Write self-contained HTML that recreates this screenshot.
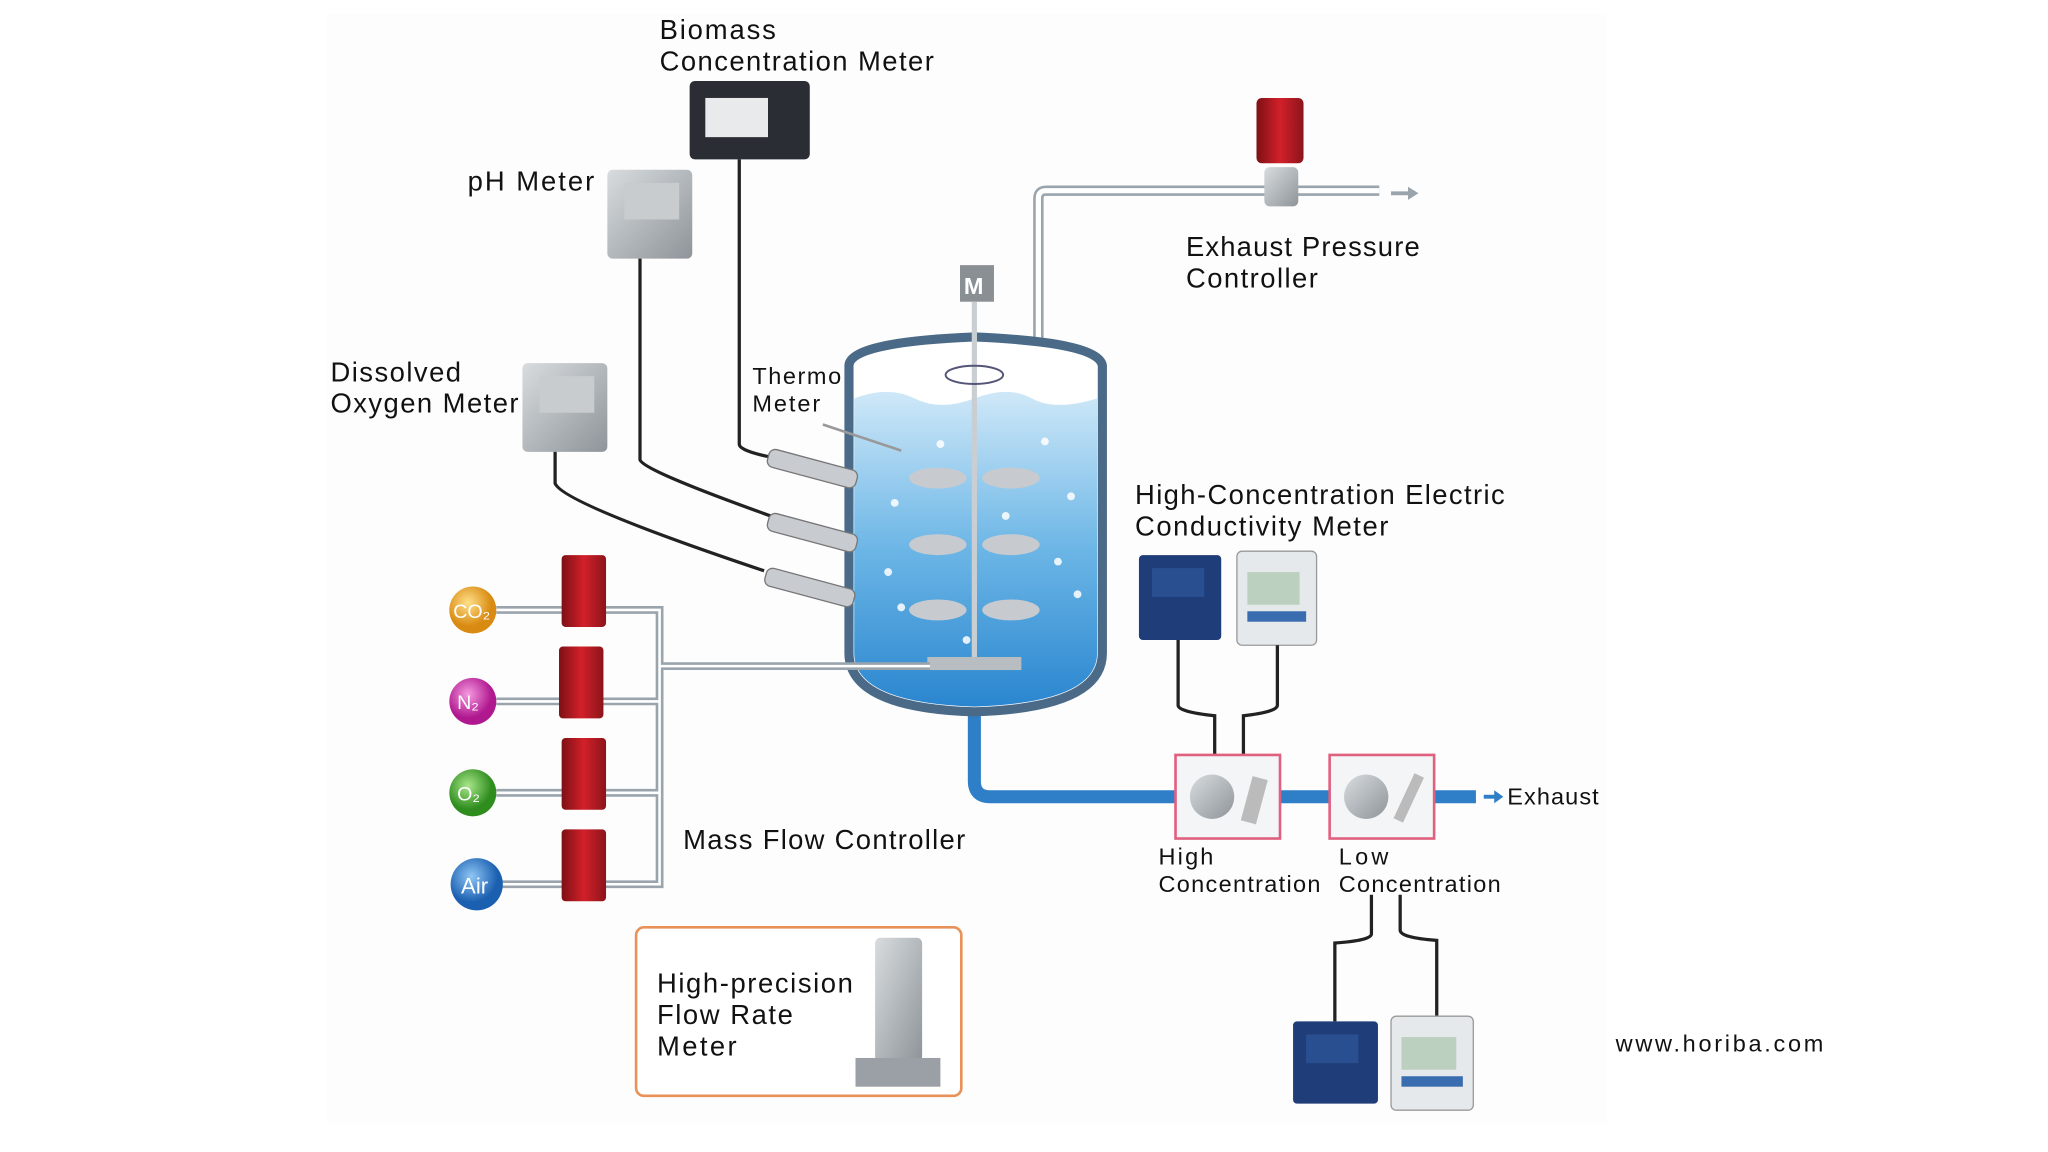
<!DOCTYPE html>
<html><head><meta charset="utf-8"><style>
html,body{margin:0;padding:0;background:#fff;}
svg{display:block;}
text{font-family:"Liberation Sans",sans-serif;fill:#111;}
</style></head><body>
<svg width="2048" height="1152" viewBox="0 0 1568 882" xmlns="http://www.w3.org/2000/svg">
<defs>
<linearGradient id="liq" x1="0" y1="0" x2="0" y2="1"><stop offset="0" stop-color="#cfe8f8"/><stop offset="0.5" stop-color="#6cb6e6"/><stop offset="1" stop-color="#2a86cf"/></linearGradient>
<linearGradient id="red" x1="0" y1="0" x2="1" y2="0"><stop offset="0" stop-color="#7d1015"/><stop offset="0.5" stop-color="#d2202a"/><stop offset="1" stop-color="#8c141a"/></linearGradient>
<linearGradient id="grey" x1="0" y1="0" x2="1" y2="1"><stop offset="0" stop-color="#d8dcdf"/><stop offset="1" stop-color="#8e9499"/></linearGradient>
<radialGradient id="co2" cx="0.4" cy="0.35"><stop offset="0" stop-color="#ffe08a"/><stop offset="1" stop-color="#d98a10"/></radialGradient>
<radialGradient id="n2" cx="0.4" cy="0.35"><stop offset="0" stop-color="#f59ae0"/><stop offset="1" stop-color="#b0188f"/></radialGradient>
<radialGradient id="o2" cx="0.4" cy="0.35"><stop offset="0" stop-color="#a8e68a"/><stop offset="1" stop-color="#2f8d1e"/></radialGradient>
<radialGradient id="air" cx="0.4" cy="0.35"><stop offset="0" stop-color="#8fc6f5"/><stop offset="1" stop-color="#1a5fb0"/></radialGradient>
</defs>
<rect x="250" y="10" width="980" height="850" fill="#fdfdfd"/>
<path d="M795 262 V152 Q795 146 801 146 H1056" fill="none" stroke="#9aa4ac" stroke-width="8"/>
<path d="M795 262 V152 Q795 146 801 146 H1056" fill="none" stroke="#fff" stroke-width="4"/>
<path d="M1065 148 H1082" stroke="#9aa4ac" stroke-width="3"/><path d="M1078 143 L1086 148 L1078 153Z" fill="#9aa4ac"/>
<rect x="968" y="128" width="26" height="30" rx="4" fill="url(#grey)"/>
<rect x="962" y="75" width="36" height="50" rx="4" fill="url(#red)"/>
<path d="M746 540 V598 Q746 610 758 610 H1130" fill="none" stroke="#2e7fc8" stroke-width="10"/>
<path d="M1136 610 H1148" stroke="#2e7fc8" stroke-width="3"/><path d="M1144 605 L1151 610 L1144 615Z" fill="#2e7fc8"/>
<path d="M650 280 Q650 262 746 258 Q842 262 844 280 V500 Q844 542 746 545 Q650 542 650 500Z" fill="#fff" stroke="#4a6a88" stroke-width="7"/>
<path d="M654 305 Q680 295 700 305 T746 305 T790 305 T840 305 V500 Q840 538 746 541 Q654 538 654 500Z" fill="url(#liq)"/>
<g fill="#fff" opacity="0.85"><circle cx="685" cy="385" r="3"/><circle cx="800" cy="338" r="3"/><circle cx="820" cy="380" r="3"/><circle cx="680" cy="438" r="3"/><circle cx="825" cy="455" r="3"/><circle cx="690" cy="465" r="3"/><circle cx="740" cy="490" r="3"/><circle cx="770" cy="395" r="3"/><circle cx="720" cy="340" r="3"/><circle cx="810" cy="430" r="3"/></g>
<rect x="735" y="203" width="26" height="28" fill="#8a8f94"/><text x="738" y="225" font-size="18" font-weight="bold" style="fill:#fff">M</text>
<line x1="746" y1="231" x2="746" y2="505" stroke="#c9ced3" stroke-width="4"/>
<ellipse cx="746" cy="287" rx="22" ry="7" fill="none" stroke="#557" stroke-width="1.5"/>
<g fill="#c7cbd0"><ellipse cx="718" cy="366" rx="22" ry="8"/><ellipse cx="774" cy="366" rx="22" ry="8"/><ellipse cx="718" cy="417" rx="22" ry="8"/><ellipse cx="774" cy="417" rx="22" ry="8"/><ellipse cx="718" cy="467" rx="22" ry="8"/><ellipse cx="774" cy="467" rx="22" ry="8"/></g>
<rect x="710" y="503" width="72" height="10" fill="#b8bdc2"/>
<g fill="none" stroke="#9aa4ac" stroke-width="6"><path d="M380 467 H505 V677 H380"/><path d="M380 537 H505"/><path d="M380 607 H505"/><path d="M505 510 H712"/></g>
<g fill="none" stroke="#fff" stroke-width="2"><path d="M380 467 H505 V677 H380"/><path d="M380 537 H505"/><path d="M380 607 H505"/><path d="M505 510 H712"/></g>
<g fill="url(#red)"><rect x="430" y="425" width="34" height="55" rx="3"/><rect x="428" y="495" width="34" height="55" rx="3"/><rect x="430" y="565" width="34" height="55" rx="3"/><rect x="430" y="635" width="34" height="55" rx="3"/></g>
<circle cx="362" cy="467" r="18" fill="url(#co2)"/><text x="347" y="473" font-size="15" style="fill:#fff">CO₂</text>
<circle cx="362" cy="537" r="18" fill="url(#n2)"/><text x="350" y="543" font-size="15" style="fill:#fff">N₂</text>
<circle cx="362" cy="607" r="18" fill="url(#o2)"/><text x="350" y="613" font-size="15" style="fill:#fff">O₂</text>
<circle cx="365" cy="677" r="20" fill="url(#air)"/><text x="353" y="684" font-size="17" style="fill:#fff">Air</text>
<rect x="528" y="62" width="92" height="60" rx="4" fill="#2a2d33"/><rect x="540" y="75" width="48" height="30" fill="#e8eaec"/>
<rect x="465" y="130" width="65" height="68" rx="4" fill="url(#grey)"/><rect x="478" y="140" width="42" height="28" fill="#c8ccce"/>
<rect x="400" y="278" width="65" height="68" rx="4" fill="url(#grey)"/><rect x="413" y="288" width="42" height="28" fill="#c8ccce"/>
<g fill="none" stroke="#222" stroke-width="2.5"><path d="M566 122 V340 Q566 345 590 350"/><path d="M490 198 V352 Q492 360 590 395"/><path d="M425 346 V370 Q430 385 585 437"/></g>
<g fill="#c8ccd0" stroke="#777"><rect x="590" y="343" width="70" height="14" rx="5" transform="rotate(15 590 343)"/><rect x="590" y="392" width="70" height="14" rx="5" transform="rotate(15 590 392)"/><rect x="588" y="434" width="70" height="14" rx="5" transform="rotate(15 588 434)"/></g>
<line x1="630" y1="325" x2="690" y2="345" stroke="#999" stroke-width="2"/>
<rect x="872" y="425" width="63" height="65" rx="3" fill="#1f3d78"/><rect x="882" y="435" width="40" height="22" fill="#2a4f90"/>
<rect x="947" y="422" width="61" height="72" rx="4" fill="#e6e9eb" stroke="#999"/><rect x="955" y="438" width="40" height="25" fill="#bcd0c0"/><rect x="955" y="468" width="45" height="8" fill="#3a6cb0"/>
<g fill="none" stroke="#222" stroke-width="2.5"><path d="M902 490 V540 Q902 545 930 548 V580"/><path d="M978 494 V540 Q978 545 952 548 V580"/><path d="M1050 685 V715 Q1050 720 1022 722 V782"/><path d="M1072 685 V712 Q1072 718 1100 720 V780"/></g>
<rect x="900" y="578" width="80" height="64" fill="#f3f5f6" stroke="#e06080" stroke-width="2"/>
<rect x="1018" y="578" width="80" height="64" fill="#f3f5f6" stroke="#e06080" stroke-width="2"/>
<circle cx="928" cy="610" r="17" fill="url(#grey)"/><rect x="955" y="595" width="12" height="35" fill="#bbb" transform="rotate(15 960 610)"/>
<circle cx="1046" cy="610" r="17" fill="url(#grey)"/><rect x="1075" y="592" width="8" height="38" fill="#bbb" transform="rotate(25 1079 610)"/>
<rect x="990" y="782" width="65" height="63" rx="3" fill="#1f3d78"/><rect x="1000" y="792" width="40" height="22" fill="#2a4f90"/>
<rect x="1065" y="778" width="63" height="72" rx="4" fill="#e6e9eb" stroke="#999"/><rect x="1073" y="794" width="42" height="25" fill="#bcd0c0"/><rect x="1073" y="824" width="47" height="8" fill="#3a6cb0"/>
<rect x="487" y="710" width="249" height="129" rx="6" fill="#fff" stroke="#e8925a" stroke-width="2"/>
<rect x="670" y="718" width="36" height="95" rx="4" fill="url(#grey)"/><rect x="655" y="810" width="65" height="22" fill="#9aa0a5"/>
<g font-size="21">
<text x="505" y="30" textLength="89">Biomass</text><text x="505" y="54" textLength="210">Concentration Meter</text>
<text x="358" y="146" textLength="97">pH Meter</text>
<text x="253" y="292" textLength="100">Dissolved</text><text x="253" y="316" textLength="144">Oxygen Meter</text>
<text x="908" y="196" textLength="179">Exhaust Pressure</text><text x="908" y="220" textLength="101">Controller</text>
<text x="869" y="386" textLength="283">High-Concentration Electric</text><text x="869" y="410" textLength="194">Conductivity Meter</text>
<text x="523" y="650" textLength="216">Mass Flow Controller</text>
<text x="503" y="760" textLength="150">High-precision</text><text x="503" y="784" textLength="104">Flow Rate</text><text x="503" y="808" textLength="61">Meter</text>
</g>
<g font-size="18">
<text x="576" y="294" textLength="68">Thermo</text><text x="576" y="315" textLength="52">Meter</text>
<text x="1154" y="616" textLength="70">Exhaust</text>
<text x="887" y="662" textLength="42">High</text><text x="887" y="683" textLength="124">Concentration</text>
<text x="1025" y="662" textLength="38">Low</text><text x="1025" y="683" textLength="124">Concentration</text>
<text x="1237" y="805" textLength="159">www.horiba.com</text>
</g>
</svg>
</body></html>
